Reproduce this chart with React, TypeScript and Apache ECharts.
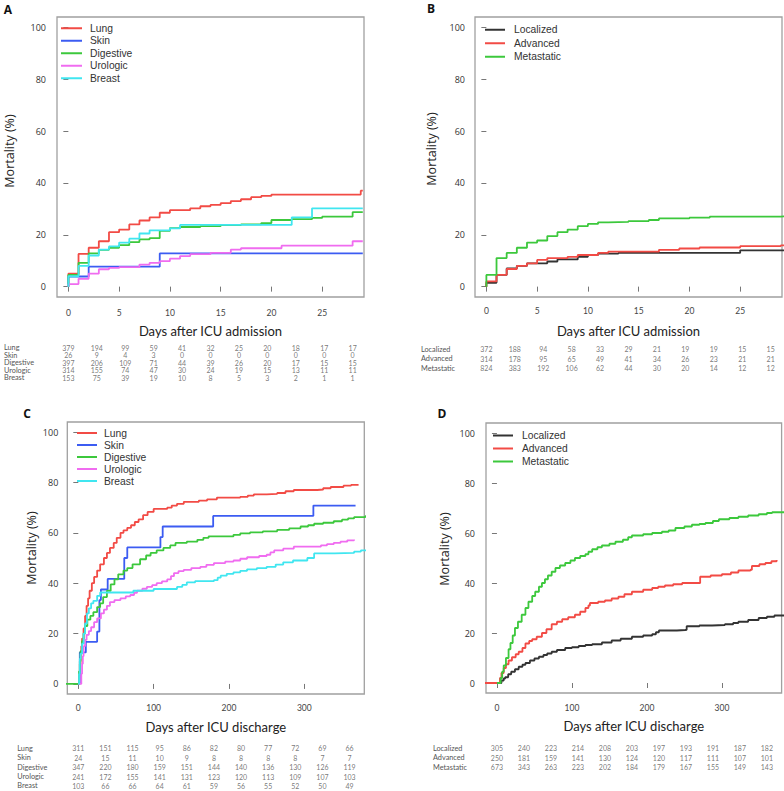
import React, { useEffect, useRef } from "react";
import * as echarts from "echarts";

// ---------- Panel A: days after ICU admission, by cancer site ----------
const siteNames = ["Lung", "Skin", "Digestive", "Urologic", "Breast"];
const stageNames = ["Localized", "Advanced", "Metastatic"];

const lungA = [[0,0],[0,5],[1,12.6],[2,15],[3,17.5],[4,21],[5,22],[6,24],[7,25.5],[8,26.7],[9,28.5],[10,29.5],[12,30.2],[13,31],[14,31.5],[15,32.2],[16,33],[17,33.7],[18,34.5],[19,35],[20,35.5],[28.8,37],[29,37]];
const skinA = [[0,0],[0,3.9],[2,7.7],[9,12.8],[29,12.8]];
const digestiveA = [[0,0],[0,4.5],[1,9.2],[2,12.8],[3,14.2],[4,15],[5,16],[6,17.2],[7,18.2],[8,18.7],[9,21.5],[10,22.6],[11,23],[13,23.3],[15,23.7],[17,24],[19,24.5],[20,25.7],[22,26],[24,26.5],[25,27],[28,28.7],[29,28.7]];
const urologicA = [[0,0],[0,1],[1,3],[2,5],[3,6.7],[4,7.2],[5,7.5],[7,8.5],[8,9.2],[9,9.8],[10,10.8],[11,11.8],[12,12.5],[14,13],[16,14.3],[17,14.8],[21,15.8],[28,17.5],[29,17.5]];
const breastA = [[0,0],[0,4],[1,8],[2,12],[3,14.3],[4,15.5],[5,17],[6,18.5],[7,20.5],[8,21.7],[10,22.5],[11,23.8],[22,26.7],[24,30.2],[29,30.2]];

// ---------- Panel B: days after ICU admission, by stage ----------
const localizedB = [[0,0],[0,1.5],[1,4.5],[2,7],[3,8],[4,9],[6,9.7],[7,10.5],[9,11.5],[10,12.2],[11,12.7],[13,13],[25,14],[30,14]];
const advancedB = [[0,0],[0,2],[1,4.5],[2,6.8],[3,8],[4,9],[5,10.3],[6,11],[8,11.5],[9,12.2],[11,13],[12,13.5],[17,14.2],[19,14.7],[21,15.1],[25,15.6],[29,15.9],[30,15.9]];
const metastaticB = [[0,0],[0,4.5],[1,11],[2,13],[3,15],[4,17],[5,17.8],[6,19.5],[7,21],[8,22],[9,23.3],[10,24.2],[11,24.8],[12,25],[14,25.3],[16,25.7],[17,26.3],[20,26.6],[22,27],[29,27.2],[30,27.2]];

// ---------- Panel C: days after ICU discharge, by cancer site ----------
const lungC = [[0,0],[1,4],[2,8],[3,12],[4,15],[5,18],[7,22],[9,27],[11,31],[13,34],[15,37],[18,40],[21,42.5],[25,45],[29,47.5],[34,50],[38,52],[42,54],[47,56],[51,58],[56,60],[60,61],[65,62],[70,63],[75,64.3],[80,65.3],[86,67],[92,68.3],[100,69.5],[118,70],[124,70.8],[131,71.5],[140,72.3],[160,72.8],[171,73.3],[184,74],[215,74.3],[225,74.8],[233,75.3],[250,75.5],[264,75.8],[275,76.5],[286,77],[317,77.2],[325,77.7],[335,78.2],[352,78.7],[362,79],[372,79]];
const skinC = [[0,0],[2,12.5],[10,16.7],[25,20.8],[28,33.3],[30,37.5],[39,41.7],[61,50],[65,54.2],[109,58.3],[112,62.5],[179,66.7],[312,70.8],[368,70.8]];
const digestiveC = [[-20,0],[0,0],[1,5],[2,9],[3,13],[5,17],[7,20],[9,23],[12,25.5],[16,27],[20,28.5],[25,30.5],[29,32],[33,34.5],[38,37],[43,39.5],[48,41.5],[53,43.5],[60,45],[65,46],[72,47.5],[82,49.5],[90,51],[96,52],[104,53],[113,54],[122,55],[129,56],[144,56.5],[158,57.2],[166,58],[173,58.6],[206,59.2],[215,59.8],[228,60.2],[245,60.6],[264,61.2],[280,61.8],[295,62.5],[305,63],[313,63.6],[325,64],[339,64.6],[350,65.2],[358,65.7],[366,66.2],[381,66.6],[390,66.6]];
const urologicC = [[0,0],[3,0],[4,4],[5,8],[6,11],[7,15],[9,17.5],[11,19.5],[14,21],[17,22.5],[21,24.5],[25,26],[30,28],[34,29.5],[38,31],[42,32.5],[48,33.3],[56,34],[63,34.8],[69,35.3],[74,36.2],[78,37],[85,37.8],[91,38.5],[98,39.2],[104,40],[111,40.7],[118,41.5],[123,42.8],[127,44],[133,44.8],[140,45.3],[150,46],[162,46.5],[170,47.3],[180,48],[195,48.6],[206,49],[215,49.7],[224,50.3],[240,50.8],[250,51.3],[255,52.2],[260,53],[272,53.7],[286,54.5],[322,55],[330,55.5],[339,56],[348,56.5],[357,57],[366,57.3]];
const breastC = [[0,0],[1,4],[2,10],[3,12],[5,16],[7,20],[9,24],[11.5,28],[14,30],[17,32],[20,33],[25,35],[29,36.3],[73,37],[100,37.7],[131,38.5],[138,39.3],[144,40.3],[155,40.8],[180,41.2],[185,42.2],[189,43],[197,43.7],[206,44.3],[215,44.9],[224,45.5],[237,46],[250,46.5],[262,47.4],[272,48.3],[285,49],[304,50],[313,51.8],[340,52],[366,52.5],[375,53],[390,53]];

// ---------- Panel D: days after ICU discharge, by stage ----------
const localizedD = [[0,0],[3,0],[6,1],[9,1.8],[11,2.3],[15,3.5],[19,4.5],[24,5.5],[29,6.5],[34,7.3],[38,8],[44,9],[50,9.8],[56,10.5],[62,11.2],[67,11.8],[73,12.5],[80,13.2],[91,14],[100,14.3],[109,14.8],[118,15.2],[127,15.5],[140,16.2],[153,17],[165,17.7],[180,18.5],[195,19],[207,19.5],[212,20.3],[216,21],[240,21.2],[251,21.3],[253,22.7],[270,23],[287,23.2],[304,23.5],[315,24],[322,24.5],[335,25.2],[349,26],[360,26.5],[370,27],[390,27]];
const advancedD = [[-20,0],[2,0],[4,2],[6,4],[9,6],[12,7.5],[15.5,9],[20,10.3],[25,11.5],[29,12.5],[34,14],[38,15.8],[43,16.8],[47,17.5],[53,18.5],[60,20],[66,21.5],[73,23.5],[80,24.5],[87,25.5],[95,26.3],[104,27.3],[111,28.5],[118,30],[122,31],[124,32],[135,32.5],[144,33],[153,33.8],[162,34.5],[170,35.5],[180,36.5],[195,37.3],[207,38],[215,38.5],[224,39],[235,39.5],[247,40],[267,40],[271,42.5],[285,43],[300,43.5],[312,44.2],[322,45],[338,45.3],[340,46.8],[350,47.5],[358,48],[366,48.7],[373,49.2]];
const metastaticD = [[0,0],[3,0],[5,2],[7,4.5],[9,7],[12,10],[15.5,13.5],[18,16],[21,19],[24,22],[28,24.5],[33,27.3],[38,30],[42,32.5],[47,34.8],[51,36.5],[56,38.5],[60,40],[64,41.5],[68,43],[73,44.5],[78,46],[84,47],[91,48],[98,49],[104,50],[111,50.8],[118,51.5],[122,52.5],[127,53.5],[134,54.3],[140,55],[150,55.7],[158,56.5],[168,57.3],[175,58.3],[180,59],[195,59.5],[207,60],[220,60.5],[229,61],[238,62],[250,62.6],[260,63.3],[270,63.6],[278,64],[288,64.8],[296,65.5],[310,66],[322,66.5],[335,67],[349,67.5],[360,68],[367,68.3],[390,68.3]];

// ---------- Numbers at risk ----------
const riskTimesAdmission = [0, 2.8, 5.6, 8.4, 11.2, 14, 16.8, 19.6, 22.4, 25.2, 28];
const riskTimesDischarge = [0, 36, 72, 108, 144, 180, 216, 252, 288, 324, 360];

const riskA = [
  [379, 194, 99, 59, 41, 32, 25, 20, 18, 17, 17],
  [26, 9, 4, 3, 0, 0, 0, 0, 0, 0, 0],
  [397, 206, 109, 71, 44, 39, 26, 20, 17, 15, 15],
  [314, 155, 74, 47, 30, 24, 19, 15, 13, 11, 11],
  [153, 75, 39, 19, 10, 8, 5, 3, 2, 1, 1],
];
const riskB = [
  [372, 188, 94, 58, 33, 29, 21, 19, 19, 15, 15],
  [314, 178, 95, 65, 49, 41, 34, 26, 23, 21, 21],
  [824, 383, 192, 106, 62, 44, 30, 20, 14, 12, 12],
];
const riskC = [
  [311, 151, 115, 95, 86, 82, 80, 77, 72, 69, 66],
  [24, 15, 11, 10, 9, 8, 8, 8, 8, 7, 7],
  [347, 220, 180, 159, 151, 144, 140, 136, 130, 126, 119],
  [241, 172, 155, 141, 131, 123, 120, 113, 109, 107, 103],
  [103, 66, 66, 64, 61, 59, 56, 55, 52, 50, 49],
];
const riskD = [
  [305, 240, 223, 214, 208, 203, 197, 193, 191, 187, 182],
  [250, 181, 159, 141, 130, 124, 120, 117, 111, 107, 101],
  [673, 343, 263, 223, 202, 184, 179, 167, 155, 149, 143],
];

const yTicks = [0, 20, 40, 60, 80, 100];
const xTicksAdmission = [0, 5, 10, 15, 20, 25];
const xTicksDischarge = [0, 100, 200, 300];

const siteColors = ["#f24b45", "#3c5cf2", "#3cc83c", "#f06cf0", "#40e6f0"];
const stageColors = ["#333333", "#f24b45", "#3cc83c"];

const W = 784;
const H = 791;

export default function App() {
  const ref = useRef<HTMLDivElement>(null);

  useEffect(() => {
    if (!ref.current) return;
    const chart = echarts.init(ref.current, null, { renderer: "svg", width: W, height: H });

    const panels = [
      { grid: { left: 57, top: 17, width: 307, height: 280 }, xmin: -1.12, xmax: 29.12, xticks: xTicksAdmission, xname: "Days after ICU admission",
        names: siteNames, colors: siteColors, curves: [lungA, skinA, digestiveA, urologicA, breastA],
        table: { top: 344, height: 37.5, margin: 53 }, risk: riskA, times: riskTimesAdmission,
        legend: { left: 61, top: 22, iw: 21, gap: 12.5, pad: 3 }, ylabMargin: 11, xlabMargin: 11, nameGap: 27 },
      { grid: { left: 475, top: 17, width: 307, height: 280 }, xmin: -1.12, xmax: 29.12, xticks: xTicksAdmission, xname: "Days after ICU admission",
        names: stageNames, colors: stageColors, curves: [localizedB, advancedB, metastaticB],
        table: { top: 344.2, height: 29, margin: 54 }, risk: riskB, times: riskTimesAdmission,
        legend: { left: 485, top: 23, iw: 20, gap: 13.5, pad: 4 }, ylabMargin: 10, xlabMargin: 9, nameGap: 27 },
      { grid: { left: 67.3, top: 422, width: 297, height: 272 }, xmin: -14.6, xmax: 379.6, xticks: xTicksDischarge, xname: "Days after ICU discharge",
        names: siteNames, colors: siteColors, curves: [lungC, skinC, digestiveC, urologicC, breastC],
        table: { top: 743.6, height: 47, margin: 50 }, risk: riskC, times: riskTimesDischarge,
        legend: { left: 77, top: 427, iw: 20, gap: 12, pad: 2 }, ylabMargin: 9, xlabMargin: 9, nameGap: 26 },
      { grid: { left: 486, top: 423, width: 295.6, height: 270 }, xmin: -14.6, xmax: 379.6, xticks: xTicksDischarge, xname: "Days after ICU discharge",
        names: stageNames, colors: stageColors, curves: [localizedD, advancedD, metastaticD],
        table: { top: 743.6, height: 28.2, margin: 53 }, risk: riskD, times: riskTimesDischarge,
        legend: { left: 493, top: 429, iw: 20, gap: 13, pad: 4 }, ylabMargin: 11, xlabMargin: 10, nameGap: 26 },
    ];

    const grid: any[] = [];
    const xAxis: any[] = [];
    const yAxis: any[] = [];
    const series: any[] = [];
    const legend: any[] = [];

    panels.forEach((p, i) => {
      grid.push({ ...p.grid, show: true, borderColor: "#a0a0a0", borderWidth: 1.3, backgroundColor: "transparent" });
      xAxis.push({
        type: "value", gridIndex: i, min: p.xmin, max: p.xmax,
        splitLine: { show: false }, axisLine: { show: false },
        axisTick: { show: true, customValues: p.xticks, length: 5, lineStyle: { color: "#777" } },
        axisLabel: { customValues: p.xticks, margin: p.xlabMargin, fontSize: 8.5, fontFamily: "Lato", color: "#444" },
        name: p.xname, nameLocation: "middle", nameGap: p.nameGap,
        nameTextStyle: { fontFamily: "Lato", fontSize: 13, color: "#222" },
      });
      yAxis.push({
        type: "value", gridIndex: i, min: -4, max: 104,
        splitLine: { show: false }, axisLine: { show: false },
        axisTick: { show: true, customValues: yTicks, length: 5, lineStyle: { color: "#777" } },
        axisLabel: { customValues: yTicks, margin: p.ylabMargin, fontSize: 9, fontFamily: "Open Sans", color: "#333" },
      });
      p.curves.forEach((c, k) => {
        series.push({
          type: "line", name: p.names[k], xAxisIndex: i, yAxisIndex: i, data: c, step: "end",
          symbol: "none", showSymbol: false, color: p.colors[k],
          lineStyle: { width: 1.8, color: p.colors[k] }, clip: true,
        });
      });
      legend.push({
        orient: "vertical", left: p.legend.left, top: p.legend.top, data: p.names,
        icon: "rect", itemWidth: p.legend.iw, itemHeight: 2, itemGap: 0, padding: 0,
        textStyle: { fontFamily: "Liberation Sans", fontSize: 10.3, color: "#333", lineHeight: p.legend.gap, padding: [0, 0, 0, p.legend.pad] },
      });
    });

    panels.forEach((p, i) => {
      const gi = 4 + i;
      grid.push({ left: p.grid.left, width: p.grid.width, top: p.table.top, height: p.table.height });
      xAxis.push({ type: "value", gridIndex: gi, min: p.xmin, max: p.xmax, show: false });
      yAxis.push({
        type: "category", gridIndex: gi, data: p.names, inverse: true,
        axisLine: { show: false }, axisTick: { show: false }, splitLine: { show: false },
        axisLabel: { interval: 0, align: "left", margin: p.table.margin, fontSize: 7.3, fontFamily: "Lato", color: "#555" },
      });
      const data: any[] = [];
      p.risk.forEach((row, r) => row.forEach((n, j) => data.push([p.times[j], r, n])));
      series.push({
        type: "scatter", xAxisIndex: gi, yAxisIndex: gi, data, symbolSize: 1,
        itemStyle: { color: "rgba(0,0,0,0)" }, silent: true,
        labelLayout: { hideOverlap: false },
        label: { show: true, position: "inside", formatter: (q: any) => String(q.value[2]), fontFamily: "Lato", fontSize: 7, color: "#555" },
      });
    });

    const mort = (x: number, y: number) => ({
      type: "text", x, y, rotation: Math.PI / 2,
      style: { text: "Mortality (%)", fontFamily: "Open Sans", fontSize: 12.5, fill: "#222", align: "center", verticalAlign: "middle" },
    });
    const letter = (t: string, x: number, y: number) => ({
      type: "text", x, y,
      style: { text: t, fontFamily: "Open Sans", fontWeight: "bold", fontSize: 12, fill: "#111", align: "center", verticalAlign: "middle" },
    });

    chart.setOption({
      animation: false,
      backgroundColor: "#ffffff",
      grid, xAxis, yAxis, series, legend,
      graphic: [
        mort(9, 151), mort(431, 149), mort(31, 548), mort(444, 549),
        letter("A", 8, 9), letter("B", 431, 8), letter("C", 27, 413), letter("D", 442, 413),
      ],
    });
    return () => chart.dispose();
  }, []);

  return <div ref={ref} style={{ position: "absolute", left: 0, top: 0, width: W, height: H }} />;
}
